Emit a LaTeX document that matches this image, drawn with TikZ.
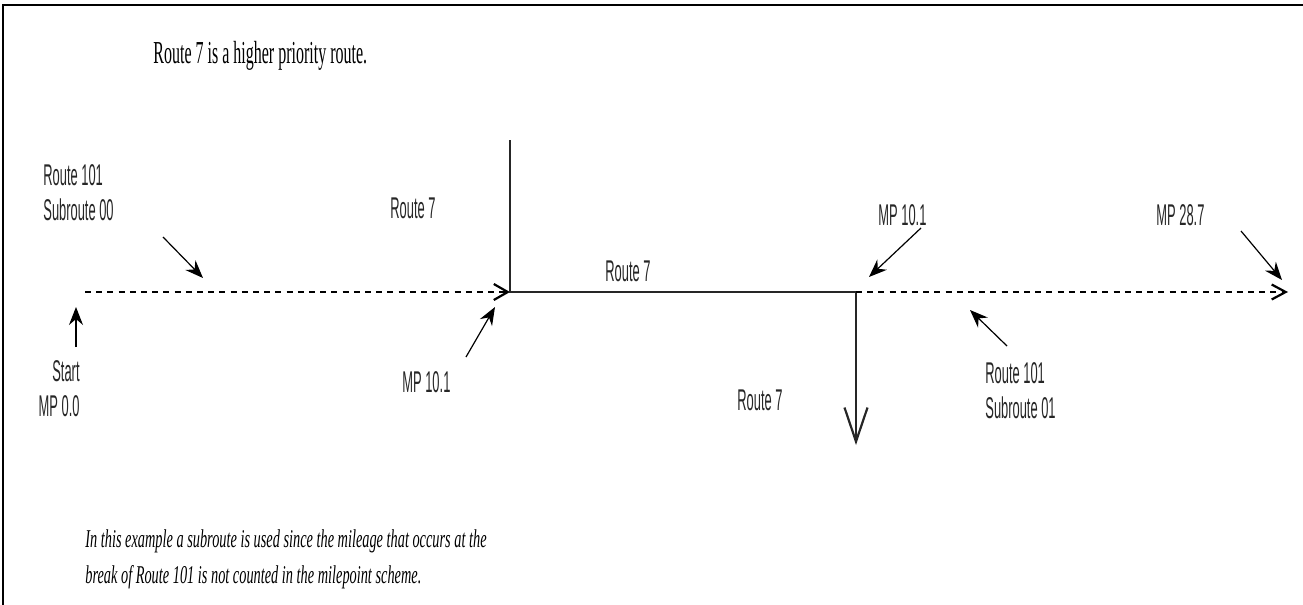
\documentclass[tikz,border=0pt]{standalone}
\usepackage{fontspec}
\usetikzlibrary{arrows.meta}
\newfontfamily\labelfont{Liberation Sans}[FakeStretch=0.43]
\newfontfamily\notefont{Liberation Serif}[FakeStretch=0.5]
\newfontfamily\remarkfont{Liberation Serif}[FakeStretch=0.56]
\begin{document}
\begin{tikzpicture}[x=0.5pt,y=-0.5pt,
    road/.style={line width=1.1pt,draw=black!85},
    oldroad/.style={road,draw=black,dash pattern=on 3pt off 2.6pt},
    pointer/.style={line width=0.6pt,-{Stealth[length=9pt,width=7pt,inset=3pt]}},
    lbl/.style={inner sep=0pt,text=black!85,font=\labelfont\fontsize{15pt}{17.5pt}\selectfont},
    note/.style={inner sep=0pt,font=\notefont\fontsize{16pt}{18pt}\selectfont}]
    \useasboundingbox (0,0) rectangle (1303,605);
    \draw[line width=1.3pt] (3,605) -- (3,5) -- (1303,5);

    % route 101 and route 7
    \coordinate (start) at (85,292);
    \coordinate (westjct) at (510,292);
    \coordinate (eastjct) at (856,292);
    \coordinate (end) at (1288,292);
    \coordinate (north7) at (510,140);
    \coordinate (south7) at (856,445);
    \draw[oldroad,-{Straight Barb[length=7pt,width=8pt]}] (start) -- (westjct);
    \draw[road] (north7) -- (westjct) -- (eastjct);
    \draw[road,-{Straight Barb[length=17pt,width=11.5pt]}] (eastjct) -- (south7);
    \draw[oldroad,-{Straight Barb[length=7pt,width=7.5pt]}] (eastjct) -- (end);

    \node[note,anchor=base west] (prio) at (153,63) {Route 7 is a higher priority route.};
    \node[lbl,anchor=north west,align=left] (sub00) at (43,164) {Route 101\\Subroute 00};
    \node[lbl,anchor=base west] (r7north) at (390,218) {Route 7};
    \node[lbl,anchor=base west] (r7mid) at (605,281) {Route 7};
    \node[lbl,anchor=base west] (r7south) at (737,410) {Route 7};
    \node[lbl,anchor=north east,align=right] (startlbl) at (80,360) {Start\\MP 0.0};
    \node[lbl,anchor=base west] (mpwest) at (402,392) {MP 10.1};
    \node[lbl,anchor=base west] (mpeast) at (878,225) {MP 10.1};
    \node[lbl,anchor=base west] (mpend) at (1156,225) {MP 28.7};
    \node[lbl,anchor=north west,align=left] (sub01) at (985,362) {Route 101\\Subroute 01};
    \node[note,anchor=north west,align=left,font=\remarkfont\itshape\fontsize{12.8pt}{18pt}\selectfont] (remark) at (85,529)
        {In this example a subroute is used since the mileage that occurs at the\\break of Route 101 is not counted in the milepoint scheme.};

    % pointers
    \coordinate (p1a) at (163,237); \coordinate (p1b) at (203,278);
    \coordinate (p2a) at (76,347);  \coordinate (p2b) at (76,307);
    \coordinate (p3a) at (466,357); \coordinate (p3b) at (495,307);
    \coordinate (p4a) at (921,228); \coordinate (p4b) at (869,277);
    \coordinate (p5a) at (1007,346); \coordinate (p5b) at (970,310);
    \coordinate (p6a) at (1241,231); \coordinate (p6b) at (1282,280);
    \draw[pointer] (p1a) -- (p1b);
    \draw[pointer] (p2a) -- (p2b);
    \draw[pointer] (p3a) -- (p3b);
    \draw[pointer] (p4a) -- (p4b);
    \draw[pointer] (p5a) -- (p5b);
    \draw[pointer] (p6a) -- (p6b);
\end{tikzpicture}
\end{document}
